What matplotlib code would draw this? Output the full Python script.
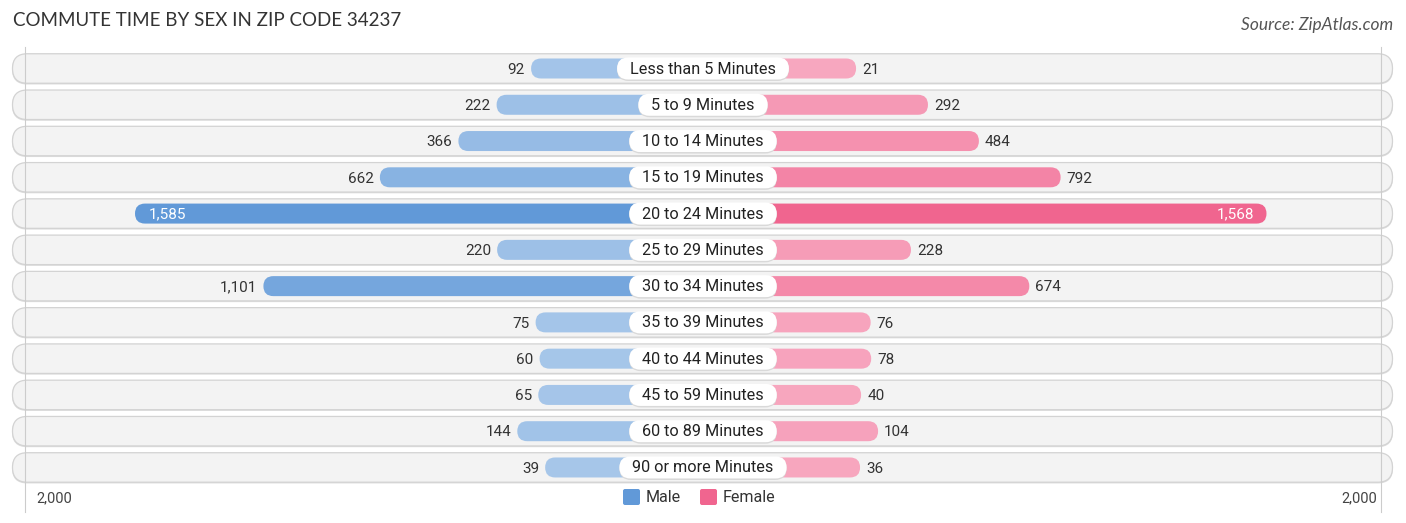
import matplotlib
matplotlib.use('Agg')
import matplotlib.pyplot as plt
from matplotlib.patches import FancyBboxPatch
import matplotlib.colors as mcolors
import numpy as np

# ---- data ----
categories = ["Less than 5 Minutes", "5 to 9 Minutes", "10 to 14 Minutes",
              "15 to 19 Minutes", "20 to 24 Minutes", "25 to 29 Minutes",
              "30 to 34 Minutes", "35 to 39 Minutes", "40 to 44 Minutes",
              "45 to 59 Minutes", "60 to 89 Minutes", "90 or more Minutes"]
male = [92, 222, 366, 662, 1585, 220, 1101, 75, 60, 65, 144, 39]
female = [21, 292, 484, 792, 1568, 228, 674, 76, 78, 40, 104, 36]
axis_max = 2000
axis_labels = ["2,000", "2,000"]
title = "COMMUTE TIME BY SEX IN ZIP CODE 34237"
source = "Source: ZipAtlas.com"

# ---- layout ----
W, H = 1406, 523
fig = plt.figure(figsize=(W / 100, H / 100), dpi=100)
ax = fig.add_axes([0, 0, 1, 1])
ax.axis('off')

PX = 1 / 0.2653          # value units per pixel
CX = 703                 # centre pixel
ROW = 36.27              # px per row
Y0 = 68.5                # px of first row centre
ax.set_xlim(-CX * PX, (W - CX) * PX)
ax.set_ylim((H - Y0) / ROW, -Y0 / ROW)
YPX = 1 / ROW
ASPECT = YPX / PX
OFF = 147.5 * PX         # minimum bar length (hidden under label)

def px2x(p):
    return (p - CX) * PX

def px2y(p):
    return (p - Y0) / ROW

def pill(x0, x1, yc, h_px, fc, ec='none', lw=0, z=1):
    h = h_px * YPX
    p = FancyBboxPatch((x0, yc - h / 2), x1 - x0, h,
                       boxstyle=f"round,pad=0,rounding_size={h_px / 2 * PX}",
                       mutation_aspect=ASPECT, fc=fc, ec=ec, lw=lw, zorder=z)
    ax.add_patch(p)
    return p

male_lo, male_hi = np.array(mcolors.to_rgb('#a9c8ea')), np.array(mcolors.to_rgb('#6199d8'))
fem_lo, fem_hi = np.array(mcolors.to_rgb('#f7a8c0')), np.array(mcolors.to_rgb('#f0648f'))
vmax = max(max(male), max(female))

def shade(lo, hi, v):
    t = (v / vmax) ** 0.9
    return tuple(lo + (hi - lo) * t)

FONT = 'Roboto'
fig.canvas.draw()
rend = fig.canvas.get_renderer()
VY = 1.2 * YPX  # small downward nudge for value labels

n = len(categories)
for i in range(n):
    y = i
    # background row pill (shadow + outline + fill)
    pill(px2x(12), px2x(1393), y + 1.0 * YPX, 30, '#dedede', z=0.8)
    pill(px2x(12.5), px2x(1392.5), y, 29.5, '#f3f3f3', ec='#d3d3d3', lw=0.9, z=1)

    m, f = male[i], female[i]
    # bars
    pill(-(OFF + m), 0, y, 20, shade(male_lo, male_hi, m), z=2)
    pill(0, OFF + f, y, 20, shade(fem_lo, fem_hi, f), z=2)

    # value labels
    if m > 1200:
        ax.text(-(OFF + m) + 14 * PX, y + VY, f"{m:,}", ha='left', va='center',
                fontsize=11, color='white', family=FONT, zorder=5)
    else:
        ax.text(-(OFF + m) - 6 * PX, y + VY, f"{m:,}", ha='right', va='center',
                fontsize=11, color='#333333', family=FONT, zorder=5)
    if f > 1200:
        ax.text(OFF + f - 12 * PX, y + VY, f"{f:,}", ha='right', va='center',
                fontsize=11, color='white', family=FONT, zorder=5)
    else:
        ax.text(OFF + f + 6 * PX, y + VY, f"{f:,}", ha='left', va='center',
                fontsize=11, color='#333333', family=FONT, zorder=5)

    # category label in white pill
    t = ax.text(0, y + 0.5 * YPX, categories[i], ha='center', va='center',
                fontsize=11.7, color='#222222', family=FONT, zorder=6)
    bb = t.get_window_extent(renderer=rend)
    half = bb.width / 2 + 13
    pill(-half * PX, half * PX, y + 1 * YPX, 23, '#d9d9d9', z=3)
    pill(-half * PX, half * PX, y, 22, 'white', z=4)

# gridlines at axis max
for s in (-1, 1):
    ax.plot([s * (OFF + axis_max)] * 2, [px2y(47), px2y(512)],
            color='#cccccc', lw=0.8, zorder=1.5)

# axis labels
ax.text(px2x(36), px2y(498), axis_labels[0], ha='left', va='center',
        fontsize=10.5, color='#444444', family=FONT)
ax.text(px2x(1377), px2y(498), axis_labels[1], ha='right', va='center',
        fontsize=10.5, color='#444444', family=FONT)

# legend
for x0, col, lab in ((623, '#6199d8', 'Male'), (700, '#f0658f', 'Female')):
    ax.add_patch(FancyBboxPatch((px2x(x0), px2y(489)), 17 * PX, 16 * YPX,
                                boxstyle=f"round,pad=0,rounding_size={2 * PX}",
                                mutation_aspect=ASPECT, fc=col, ec='none', zorder=3))
    ax.text(px2x(x0 + 23), px2y(498), lab, ha='left', va='center',
            fontsize=11.5, color='#333333', family=FONT)

# title and source
fig.text(13 / W, 1 - 21 / H, title, ha='left', va='center', fontsize=13.5,
         color='#333333', family='Lato')
fig.text(1393 / W, 1 - 25 / H, source, ha='right', va='center', fontsize=12.5,
         color='#555555', family='Lato', style='italic')

fig.savefig('out.png', dpi=100)
